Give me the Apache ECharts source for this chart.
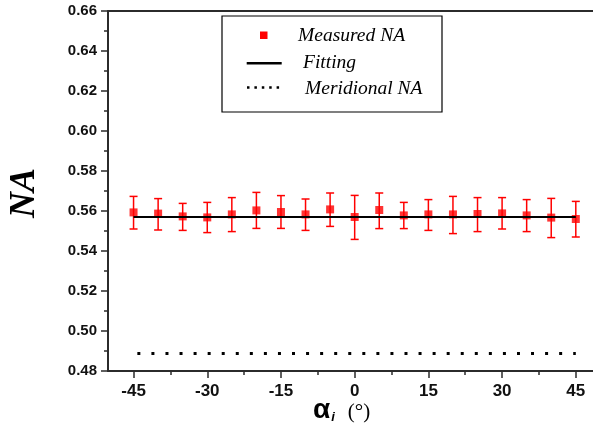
<!DOCTYPE html>
<html>
<head>
<meta charset="utf-8">
<title>NA vs incidence angle</title>
<script src="https://cdn.jsdelivr.net/npm/echarts@6/dist/echarts.min.js"></script>
<style>
  html, body { margin: 0; padding: 0; background: #ffffff; }
  #chart { width: 593px; height: 433px; }
</style>
</head>
<body>
<div id="chart"></div>
<script>
// Incidence angles (degrees)
const angles = [-45, -40, -35, -30, -25, -20, -15, -10, -5, 0, 5, 10, 15, 20, 25, 30, 35, 40, 45];
// Measured numerical aperture and its error-bar limits
const measuredNA = [0.5593, 0.5587, 0.5573, 0.5568, 0.5583, 0.5603, 0.5595, 0.5583, 0.5608, 0.5570,
                    0.5605, 0.5578, 0.5583, 0.5583, 0.5585, 0.5588, 0.5578, 0.5567, 0.5560];
const upperNA = [0.5673, 0.5662, 0.5638, 0.5643, 0.5667, 0.5693, 0.5677, 0.5660, 0.5690, 0.5678,
                 0.5690, 0.5643, 0.5657, 0.5673, 0.5667, 0.5667, 0.5657, 0.5663, 0.5648];
const lowerNA = [0.5510, 0.5505, 0.5503, 0.5492, 0.5497, 0.5513, 0.5513, 0.5503, 0.5523, 0.5458,
                 0.5512, 0.5512, 0.5503, 0.5487, 0.5497, 0.5510, 0.5497, 0.5467, 0.5470];
// Fitted line and meridional NA (constant across the angle range)
const fitAngles = [-45, 45];
const fitNA = [0.557, 0.557];
const meridionalNA = [0.4887, 0.4887];
// Axis ticks
const xMajorTicks = [-45, -30, -15, 0, 15, 30, 45];
const xMinorTicks = [-37.5, -22.5, -7.5, 7.5, 22.5, 37.5];

// visible angle window (the frame continues past the right edge)
const xMin = -50.2;
const xMax = 48.5;

const axisColor = '#2b2b2b';
const red = '#ff0000';

const chart = echarts.init(document.getElementById('chart'), null, { renderer: 'canvas' });

const option = {
  backgroundColor: '#ffffff',
  animation: false,
  grid: { left: 108, top: 11, right: 0, bottom: 62, containLabel: false },
  xAxis: [
    {
      type: 'value', position: 'bottom', min: xMin, max: xMax,
      axisLine: { show: true, onZero: false, lineStyle: { color: axisColor, width: 2 } },
      axisTick: { show: true, customValues: xMajorTicks, length: 7, lineStyle: { color: axisColor, width: 1.5 } },
      axisLabel: {
        show: true, customValues: xMajorTicks, margin: 12,
        fontFamily: 'Liberation Sans', fontWeight: 'bold', fontSize: 17, color: '#111'
      },
      splitLine: { show: false }
    },
    {
      type: 'value', position: 'bottom', min: xMin, max: xMax,
      axisLine: { show: false, onZero: false },
      axisTick: { show: true, customValues: xMinorTicks, length: 4, lineStyle: { color: axisColor, width: 1.5 } },
      axisLabel: { show: false },
      splitLine: { show: false }
    },
    {
      type: 'value', position: 'top', min: xMin, max: xMax,
      axisLine: { show: true, onZero: false, lineStyle: { color: axisColor, width: 2 } },
      axisTick: { show: false },
      axisLabel: { show: false },
      splitLine: { show: false }
    }
  ],
  yAxis: {
    type: 'value', min: 0.48, max: 0.66, interval: 0.02,
    axisLine: { show: true, onZero: false, lineStyle: { color: axisColor, width: 2 } },
    axisTick: { show: true, length: 7, lineStyle: { color: axisColor, width: 1.5 } },
    minorTick: { show: true, splitNumber: 2, length: 4, lineStyle: { color: axisColor, width: 1.5 } },
    axisLabel: {
      margin: 11, formatter: v => v.toFixed(2),
      fontFamily: 'Liberation Sans', fontWeight: 'bold', fontSize: 15, color: '#111'
    },
    splitLine: { show: false }
  },
  series: [
    {
      name: 'Meridional NA', type: 'line', xAxisIndex: 0,
      data: fitAngles.map((a, i) => [a, meridionalNA[i]]),
      symbol: 'none',
      lineStyle: { color: '#000', width: 3, type: [3, 11.06], dashOffset: -3.8, cap: 'butt' },
      z: 3
    },
    {
      name: 'error', type: 'custom', xAxisIndex: 0,
      data: angles.map((a, i) => [a, lowerNA[i], upperNA[i]]),
      renderItem: function (params, api) {
        const x = api.value(0);
        const pLo = api.coord([x, api.value(1)]);
        const pHi = api.coord([x, api.value(2)]);
        const hw = 4;
        const st = { stroke: red, lineWidth: 1.5 };
        return {
          type: 'group',
          children: [
            { type: 'line', shape: { x1: pLo[0], y1: pLo[1], x2: pHi[0], y2: pHi[1] }, style: st },
            { type: 'line', shape: { x1: pLo[0] - hw, y1: pLo[1], x2: pLo[0] + hw, y2: pLo[1] }, style: st },
            { type: 'line', shape: { x1: pHi[0] - hw, y1: pHi[1], x2: pHi[0] + hw, y2: pHi[1] }, style: st }
          ]
        };
      },
      z: 4
    },
    {
      name: 'Measured NA', type: 'scatter', xAxisIndex: 0,
      data: angles.map((a, i) => [a, measuredNA[i]]),
      symbol: 'rect', symbolSize: 8,
      itemStyle: { color: red },
      z: 5
    },
    {
      name: 'Fitting', type: 'line', xAxisIndex: 0,
      data: fitAngles.map((a, i) => [a, fitNA[i]]),
      symbol: 'none',
      lineStyle: { color: '#000', width: 2 },
      z: 6
    }
  ],
  graphic: [
    // legend box
    { type: 'rect', shape: { x: 222, y: 16, width: 220, height: 96 },
      style: { fill: '#fff', stroke: '#000', lineWidth: 1.2 }, z: 10 },
    { type: 'rect', shape: { x: 260, y: 31.5, width: 7.5, height: 7.5 },
      style: { fill: red }, z: 11 },
    { type: 'text', x: 298, y: 36, z: 11,
      style: { text: 'Measured NA', font: 'italic 19.5px "Liberation Serif"', fill: '#000',
               textAlign: 'left', textVerticalAlign: 'middle' } },
    { type: 'line', shape: { x1: 246.7, y1: 63.3, x2: 281.7, y2: 63.3 },
      style: { stroke: '#000', lineWidth: 2.5 }, z: 11 },
    { type: 'text', x: 303, y: 62.5, z: 11,
      style: { text: 'Fitting', font: 'italic 19.5px "Liberation Serif"', fill: '#000',
               textAlign: 'left', textVerticalAlign: 'middle' } },
    { type: 'line', shape: { x1: 247, y1: 87.5, x2: 280, y2: 87.5 },
      style: { stroke: '#000', lineWidth: 2.5, lineDash: [2.5, 4.9] }, z: 11 },
    { type: 'text', x: 305, y: 88.5, z: 11,
      style: { text: 'Meridional NA', font: 'italic 19.5px "Liberation Serif"', fill: '#000',
               textAlign: 'left', textVerticalAlign: 'middle' } },
    // y-axis title
    { type: 'text', x: 25, y: 193, rotation: Math.PI / 2, z: 11,
      style: { text: 'NA', font: 'italic bold 36px "Liberation Serif"', fill: '#000',
               textAlign: 'center', textVerticalAlign: 'middle' } },
    // x-axis title
    { type: 'text', x: 313, y: 410, z: 11,
      style: {
        text: '{a|α}{i|i}{d|(°)}', textAlign: 'left', textVerticalAlign: 'middle',
        rich: {
          a: { fontFamily: 'Liberation Sans', fontWeight: 'bold', fontSize: 28, fill: '#000', verticalAlign: 'bottom' },
          i: { fontFamily: 'Liberation Sans', fontStyle: 'italic', fontWeight: 'bold', fontSize: 13, fill: '#000', verticalAlign: 'bottom', padding: [0, 0, 0, 1] },
          d: { fontFamily: 'Liberation Serif', fontSize: 21, fill: '#000', verticalAlign: 'bottom', padding: [0, 0, 1, 13] }
        }
      } }
  ]
};

chart.setOption(option);
</script>
</body>
</html>
